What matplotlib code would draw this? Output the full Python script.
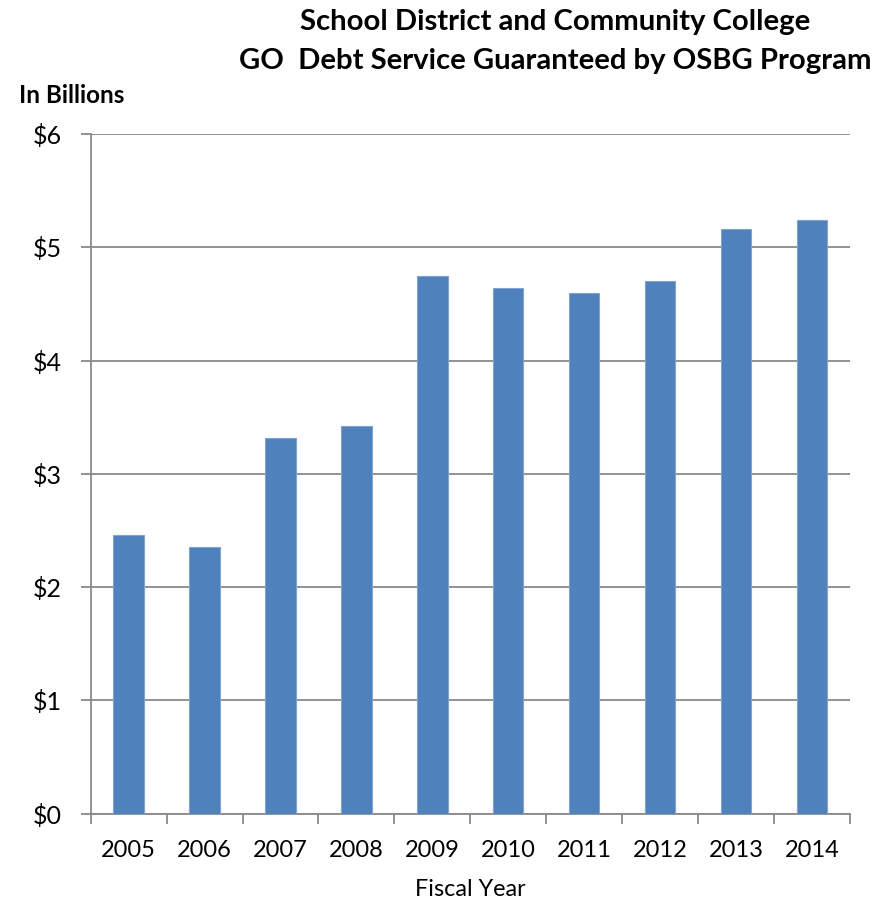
import matplotlib
matplotlib.use("Agg")
import matplotlib.pyplot as plt

years = ["2005", "2006", "2007", "2008", "2009", "2010", "2011", "2012", "2013", "2014"]
debt_billions = [2.46, 2.35, 3.32, 3.42, 4.75, 4.64, 4.60, 4.70, 5.16, 5.24]
y_ticks = [0, 1, 2, 3, 4, 5, 6]
y_tick_labels = ["$0", "$1", "$2", "$3", "$4", "$5", "$6"]

plt.rcParams["font.family"] = ["Lato", "DejaVu Sans"]

grid_color = "#898989"
bar_color = "#4F81BD"

fig = plt.figure(figsize=(8.9, 9), dpi=100)
ax = fig.add_axes([0.1019, 0.0961, 0.8531, 0.755])

x = list(range(len(years)))
ax.bar(x, debt_billions, width=0.4, color=bar_color, edgecolor="#7FA3D3",
       linewidth=0.8, zorder=3)

ax.set_xlim(-0.5, len(years) - 0.5)
ax.set_ylim(0, 6)
ax.set_yticks(y_ticks)
ax.set_yticklabels(y_tick_labels, fontsize=18)
ax.yaxis.grid(True, color=grid_color, linewidth=1.3, zorder=0)
ax.set_axisbelow(True)

# category labels at centres, tick marks at category boundaries
ax.set_xticks(x)
ax.set_xticklabels(years, fontsize=17)
ax.tick_params(axis="x", which="major", length=0, pad=19)
ax.set_xticks([i - 0.5 for i in range(len(years) + 1)], minor=True)
ax.tick_params(axis="x", which="minor", length=7, width=1.3, color=grid_color, direction="out")
ax.tick_params(axis="y", length=7, width=1.3, color=grid_color, pad=14)

for side in ["top", "right"]:
    ax.spines[side].set_visible(False)
for side in ["left", "bottom"]:
    ax.spines[side].set_color(grid_color)
    ax.spines[side].set_linewidth(1.3)

ax.set_xlabel("Fiscal Year", fontsize=16.8, labelpad=13)

fig.text(0.624, 0.976, "School District and Community College", ha="center", va="center",
         fontsize=21.1, fontweight="bold")
fig.text(0.624, 0.932, "GO  Debt Service Guaranteed by OSBG Program", ha="center", va="center",
         fontsize=21.1, fontweight="bold")
fig.text(0.021, 0.894, "In Billions", ha="left", va="center", fontsize=17.5, fontweight="bold")

fig.savefig("out.png", dpi=100)
